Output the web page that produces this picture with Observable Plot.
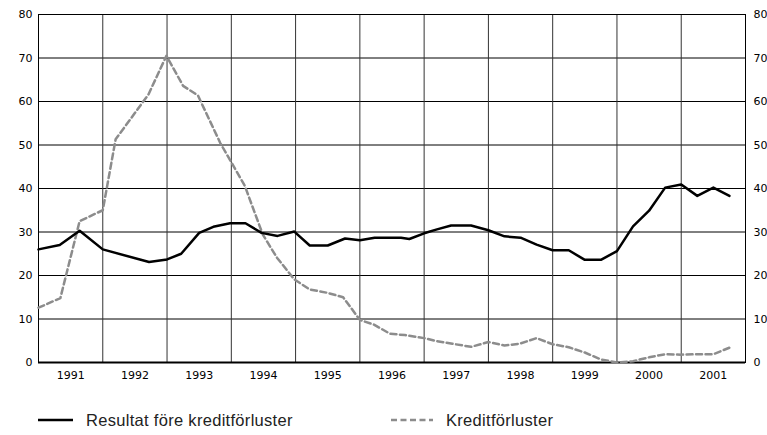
<!DOCTYPE html>
<html>
<head>
<meta charset="utf-8">
<script src="https://cdn.jsdelivr.net/npm/d3@7"></script>
<script src="https://cdn.jsdelivr.net/npm/@observablehq/plot@0.6"></script>
<style>
  body { margin: 0; background: #fff; }
  #legend { position: relative; width: 767px; height: 40px; font-family: "Liberation Sans", Arial, sans-serif; font-size: 16.5px; letter-spacing: 0.3px; color: #222; }
  #legend .item { position: absolute; top: 15px; display: flex; align-items: center; height: 20px; white-space: nowrap; }
  #legend svg { display: block; }
</style>
</head>
<body>
<div id="chart"></div>
<div id="legend"></div>
<script>
// Resultat före kreditförluster (solid black)
const resultatYears = [1991.00, 1991.33, 1991.64, 1992.00, 1992.72, 1993.00, 1993.22, 1993.50, 1993.72, 1993.98,
  1994.22, 1994.47, 1994.72, 1994.98, 1995.22, 1995.50, 1995.77, 1996.00, 1996.23, 1996.64, 1996.77,
  1997.00, 1997.20, 1997.42, 1997.73, 1998.00, 1998.25, 1998.50, 1998.75, 1999.00, 1999.25, 1999.50, 1999.75,
  2000.00, 2000.25, 2000.50, 2000.75, 2001.00, 2001.25, 2001.50, 2001.75];
const resultatValues = [26.0, 27.0, 30.3, 26.0, 23.1, 23.7, 25.0, 29.8, 31.2, 32.0,
  32.0, 29.8, 29.1, 30.1, 26.9, 26.9, 28.5, 28.1, 28.7, 28.7, 28.4,
  29.7, 30.6, 31.5, 31.5, 30.4, 29.0, 28.7, 27.1, 25.8, 25.8, 23.6, 23.6,
  25.6, 31.3, 34.9, 40.2, 40.9, 38.3, 40.2, 38.3];

// Kreditförluster (dashed grey)
const kreditYears = [1991.00, 1991.34, 1991.64, 1992.00, 1992.20, 1992.71, 1992.99, 1993.25, 1993.48, 1993.83,
  1994.21, 1994.49, 1994.71, 1994.98, 1995.22, 1995.50, 1995.74, 1996.00, 1996.22, 1996.47, 1996.70,
  1997.00, 1997.20, 1997.44, 1997.73, 1998.00, 1998.25, 1998.48, 1998.75, 1999.00, 1999.25, 1999.50, 1999.75,
  2000.00, 2000.25, 2000.50, 2000.75, 2001.00, 2001.25, 2001.50, 2001.75];
const kreditValues = [12.6, 14.8, 32.5, 35.0, 51.3, 61.6, 70.5, 63.6, 61.4, 50.4,
  40.6, 29.4, 24.1, 19.1, 16.8, 16.0, 15.0, 9.8, 8.7, 6.6, 6.3,
  5.6, 4.9, 4.3, 3.6, 4.7, 3.9, 4.3, 5.6, 4.2, 3.5, 2.3, 0.7,
  0.0, 0.3, 1.2, 1.9, 1.8, 1.9, 1.9, 3.4];

const yearLabels = [1991, 1992, 1993, 1994, 1995, 1996, 1997, 1998, 1999, 2000, 2001];
const yTicks = [0, 10, 20, 30, 40, 50, 60, 70, 80];
const yearBoundaries = [1992, 1993, 1994, 1995, 1996, 1997, 1998, 1999, 2000, 2001];
const seriesNames = ["Resultat före kreditförluster", "Kreditförluster"];

const resultat = resultatYears.map((t, i) => ({t, v: resultatValues[i]}));
const kredit = kreditYears.map((t, i) => ({t, v: kreditValues[i]}));

const chart = Plot.plot({
  width: 767,
  height: 395,
  marginLeft: 38,
  marginRight: 22,
  marginTop: 14,
  marginBottom: 33,
  x: {domain: [1991, 2002]},
  y: {domain: [0, 80]},
  style: {fontFamily: "DejaVu Sans", fontSize: "11px", color: "#000", background: "#fff"},
  marks: [
    Plot.ruleY(yTicks.filter(d => d > 0 && d < 80), {stroke: "#000", strokeWidth: 1}),
    Plot.ruleX(yearBoundaries, {stroke: "#333", strokeWidth: 1}),
    Plot.frame({stroke: "#000", strokeWidth: 1}),
    Plot.ruleY([0], {stroke: "#000", strokeWidth: 2}),
    Plot.line(kredit, {x: "t", y: "v", stroke: "#8c8c8c", strokeWidth: 2.5, strokeDasharray: "6,3.5"}),
    Plot.line(resultat, {x: "t", y: "v", stroke: "#000", strokeWidth: 2.5}),
    Plot.axisY({anchor: "left", ticks: yTicks, tickSize: 0, tickPadding: 6, label: null}),
    Plot.axisY({anchor: "right", ticks: yTicks, tickSize: 0, tickPadding: 8, label: null}),
    Plot.axisX({ticks: yearLabels.map(y => y + 0.5), tickFormat: d => String(Math.floor(d)), tickSize: 0, tickPadding: 9, label: null})
  ]
});
document.getElementById("chart").appendChild(chart);

// Legend
const legend = document.getElementById("legend");
const items = [
  {name: seriesNames[0], left: 38, w: 35, stroke: "#000", dash: null},
  {name: seriesNames[1], left: 391, w: 42, stroke: "#8c8c8c", dash: "6,3.5"}
];
for (const it of items) {
  const div = document.createElement("div");
  div.className = "item";
  div.style.left = it.left + "px";
  const ns = "http://www.w3.org/2000/svg";
  const svg = document.createElementNS(ns, "svg");
  svg.setAttribute("width", it.w);
  svg.setAttribute("height", 10);
  const ln = document.createElementNS(ns, "line");
  ln.setAttribute("x1", 0); ln.setAttribute("x2", it.w);
  ln.setAttribute("y1", 5); ln.setAttribute("y2", 5);
  ln.setAttribute("stroke", it.stroke);
  ln.setAttribute("stroke-width", 2.5);
  if (it.dash) ln.setAttribute("stroke-dasharray", it.dash);
  svg.appendChild(ln);
  div.appendChild(svg);
  const span = document.createElement("span");
  span.textContent = it.name;
  span.style.marginLeft = "13px";
  div.appendChild(span);
  legend.appendChild(div);
}
</script>
</body>
</html>
